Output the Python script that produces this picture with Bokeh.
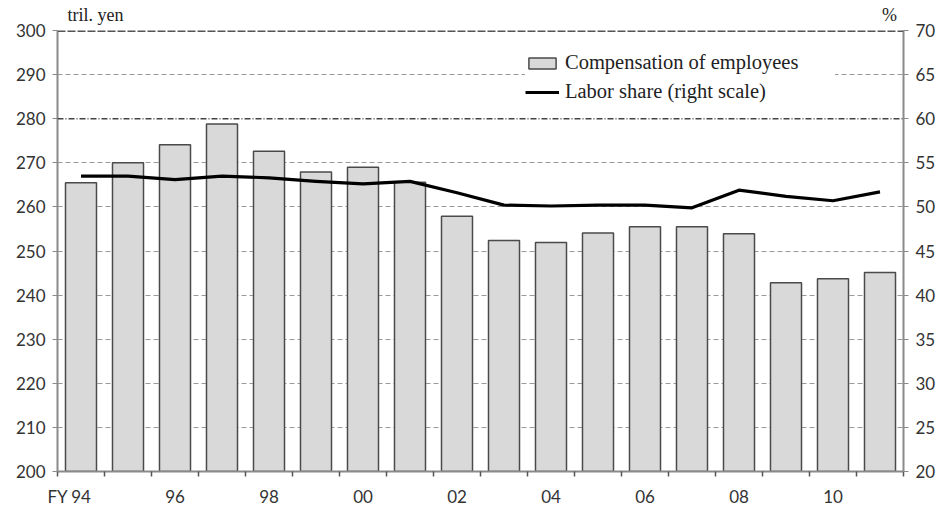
from bokeh.plotting import figure
from bokeh.models import (Range1d, LinearAxis, FixedTicker, Legend, LegendItem,
                          Span, ColumnDataSource)
from bokeh.embed import file_html
from bokeh.resources import INLINE

# ---- data ----
years = list(range(1994, 2012))
compensation = [265.5, 270.0, 274.1, 278.8, 272.6, 267.9, 269.0, 265.6, 257.9,
                252.4, 251.9, 254.1, 255.5, 255.5, 253.9, 242.8, 243.7, 245.1]
labor_share = [53.5, 53.5, 53.1, 53.5, 53.3, 52.9, 52.6, 52.9, 51.6,
               50.2, 50.1, 50.2, 50.2, 49.9, 51.9, 51.2, 50.7, 51.7]
label_years = [1994, 1996, 1998, 2000, 2002, 2004, 2006, 2008, 2010]
label_texts = ["94", "96", "98", "00", "02", "04", "06", "08", "10"]
left_ticks = list(range(200, 301, 10))
right_ticks = list(range(20, 71, 5))
left_unit = "tril. yen"
right_unit = "%"
x_prefix = "FY"

src = ColumnDataSource(dict(year=years, comp=compensation, share=labor_share))

TICK_FONT = "Lato"
SERIF = "Liberation Serif"
AX_GRAY = "#8a8a8a"
x_lo, x_hi = years[0] - 0.5, years[-1] + 0.5

p = figure(width=938, height=509,
           x_range=Range1d(x_lo, x_hi),
           y_range=Range1d(200, 300),
           output_backend="svg", toolbar_location=None,
           min_border_left=57, min_border_right=35,
           min_border_top=30, min_border_bottom=36)
p.outline_line_color = None
p.background_fill_color = "white"
p.xgrid.visible = False

p.extra_y_ranges = {"right": Range1d(20, 70)}

# left axis
ly = p.yaxis[0]
ly.ticker = FixedTicker(ticks=left_ticks)
ly.axis_line_color = AX_GRAY
ly.axis_line_width = 2
ly.major_tick_line_color = AX_GRAY
ly.major_tick_out = 5
ly.major_tick_in = 0
ly.minor_tick_line_color = None
ly.major_label_standoff = 7
ly.major_label_text_font = TICK_FONT
ly.major_label_text_font_size = "17px"
ly.major_label_text_color = "#333333"

# right axis
ry = LinearAxis(y_range_name="right", ticker=FixedTicker(ticks=right_ticks))
ry.axis_line_color = AX_GRAY
ry.axis_line_width = 2
ry.major_tick_line_color = AX_GRAY
ry.major_tick_out = 5
ry.major_tick_in = 0
ry.minor_tick_line_color = None
ry.major_label_standoff = 7
ry.major_label_text_font = TICK_FONT
ry.major_label_text_font_size = "17px"
ry.major_label_text_color = "#333333"
p.add_layout(ry, "right")

# bottom axis: year labels, plus the FY prefix at the left edge
bx = p.xaxis[0]
bx.ticker = FixedTicker(ticks=[x_lo] + label_years,
                        minor_ticks=[y - 0.5 for y in years] + [x_hi])
overrides = {y: t for y, t in zip(label_years, label_texts)}
overrides[x_lo] = x_prefix
bx.major_label_overrides = overrides
bx.axis_line_color = AX_GRAY
bx.axis_line_width = 2
bx.major_tick_line_color = None
bx.major_tick_out = 5
bx.major_tick_in = 0
bx.minor_tick_line_color = "#555555"
bx.minor_tick_out = 5
bx.minor_tick_in = 0
bx.minor_tick_line_width = 1.5
bx.major_label_standoff = 9
bx.major_label_text_font = TICK_FONT
bx.major_label_text_font_size = "17px"
bx.major_label_text_color = "#333333"

# top axis used only to carry the unit labels
unit_pos_left = x_lo + 0.81
unit_pos_right = x_hi - 0.3
tx = LinearAxis(ticker=FixedTicker(ticks=[unit_pos_left, unit_pos_right]),
                major_label_overrides={unit_pos_left: left_unit,
                                       unit_pos_right: right_unit})
tx.axis_line_color = None
tx.major_tick_line_color = None
tx.minor_tick_line_color = None
tx.major_tick_out = 0
tx.major_label_standoff = 6
tx.major_label_text_font = SERIF
tx.major_label_text_font_size = "18px"
tx.major_label_text_color = "#222222"
p.add_layout(tx, "above")

# grid
p.ygrid.ticker = FixedTicker(ticks=[t for t in left_ticks if t not in (200, 280, 300)])
p.ygrid.grid_line_color = "#9a9a9a"
p.ygrid.grid_line_dash = "5 3"
p.ygrid.grid_line_width = 1.2
p.add_layout(Span(location=280, dimension="width", line_color="#444444",
                  line_width=1.5, line_dash="6 2 1 2"))
p.add_layout(Span(location=300, dimension="width", line_color="#555555",
                  line_width=3, line_dash="8 2"))

# bars and line
bars = p.vbar(x="year", top="comp", bottom=200, width=0.66, source=src,
              fill_color="#d9d9d9", line_color="#4a4a4a", line_width=1.5)
line = p.line(x="year", y="share", source=src, y_range_name="right",
              line_color="black", line_width=3.2, line_join="round")

legend = Legend(items=[LegendItem(label="Compensation of employees", renderers=[bars]),
                       LegendItem(label="Labor share (right scale)", renderers=[line])],
                location=(468, 368), orientation="vertical",
                padding=10, margin=0, spacing=6,
                glyph_width=34, glyph_height=14, label_height=22,
                label_width=270,
                label_standoff=6, border_line_color=None,
                background_fill_color="white", background_fill_alpha=1.0,
                label_text_font=SERIF, label_text_font_size="20.5px",
                label_text_color="#222222")
p.add_layout(legend)

open("out.html", "w").write(file_html(p, INLINE))
